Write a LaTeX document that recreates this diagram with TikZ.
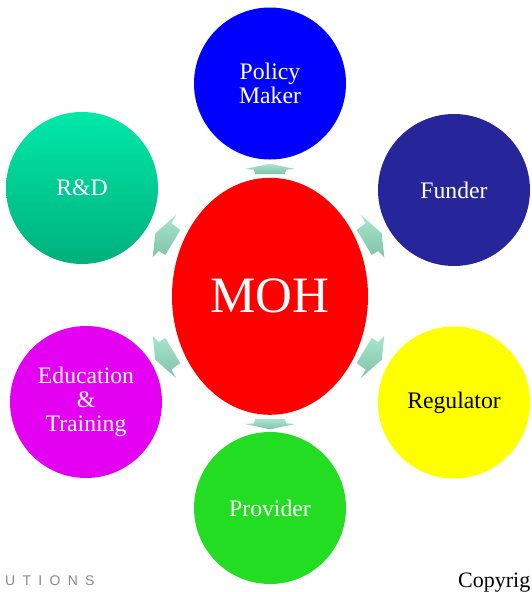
\documentclass[tikz,border=0pt]{standalone}
\usepackage{fontspec}
\setmainfont{Liberation Serif}
\newfontfamily\spacedsans[LetterSpace=52]{Liberation Sans}
\usetikzlibrary{shapes.geometric}
\definecolor{cBlue}{HTML}{0000FF}
\definecolor{cFunder}{HTML}{26269A}
\definecolor{cYellow}{HTML}{FFFF00}
\definecolor{cGreen}{HTML}{22DD22}
\definecolor{cMagenta}{HTML}{E400F0}
\definecolor{cRed}{HTML}{FF0000}
\definecolor{cTealTop}{HTML}{00E8A8}
\definecolor{cTealBot}{HTML}{00B07C}
\definecolor{cArrTop}{HTML}{A8E6CF}
\definecolor{cArrBot}{HTML}{80C2A8}
\definecolor{cGray}{HTML}{8A8A8A}
\begin{document}
\begin{tikzpicture}[x=1pt,y=-1pt,
  role/.style={circle,minimum size=152pt,inner sep=0pt,draw=none,
    text=white,align=center,font=\fontsize{23.7}{24.3}\selectfont},
  hub/.style={ellipse,minimum width=196pt,minimum height=237pt,inner sep=0pt,
    fill=cRed,text=white,font=\fontsize{51}{51}\selectfont},
  flow/.style={top color=cArrTop,bottom color=cArrBot,draw=none}]
\useasboundingbox (0,0) rectangle (531,592);
\fill[white] (0,0) rectangle (531,592);
% arrows
\path[flow] (270,163.7) -- (295,169) -- (286,169.7) -- (285,174) -- (255,174) -- (254,169.7) -- (245,169) -- cycle;
\path[flow] (270,429.3) -- (295,424) -- (286,423.3) -- (285,419) -- (255,419) -- (254,423.3) -- (245,424) -- cycle;
\path[flow] (361,215) -- (381.7,233.3) -- (384.3,257.3) -- (378.3,251) -- (371.7,255) -- (356.7,230) -- (365.7,223.3) -- cycle;
\path[flow] (361,378) -- (381.7,359.7) -- (384.3,335.7) -- (378.3,342) -- (371.7,338) -- (356.7,363) -- (365.7,369.7) -- cycle;
\path[flow] (176,215) -- (155.3,233.3) -- (152.7,257.3) -- (158.7,251) -- (165.3,255) -- (180.3,230) -- (171.3,223.3) -- cycle;
\path[flow] (176,378) -- (155.3,359.7) -- (152.7,335.7) -- (158.7,342) -- (165.3,338) -- (180.3,363) -- (171.3,369.7) -- cycle;
% hub
\node[hub] (moh) at (270,296.3) {MOH};
% roles
\node[role,fill=cBlue] (policy) at (270,83.5) {Policy\\Maker};
\node[role,fill=cFunder] (funder) at (454,190) {Funder};
\node[role,fill=cYellow,text=black] (regulator) at (454,402.5) {Regulator};
\node[role,fill=cGreen] (provider) at (270,508) {Provider};
\node[role,fill=cMagenta] (edu) at (86,402) {Education\\\&\\Training};
\node[role,top color=cTealTop,bottom color=cTealBot] (rd) at (82,188) {R\&D};
% footer
\node[anchor=base west,inner sep=0pt,text=cGray,font=\spacedsans\fontsize{14}{14}\selectfont] (sol) at (5,585) {UTIONS};
\node[anchor=base west,inner sep=0pt,text=black,font=\fontsize{22}{22}\selectfont] (copy) at (458,587) {Copyrig};
\end{tikzpicture}
\end{document}
